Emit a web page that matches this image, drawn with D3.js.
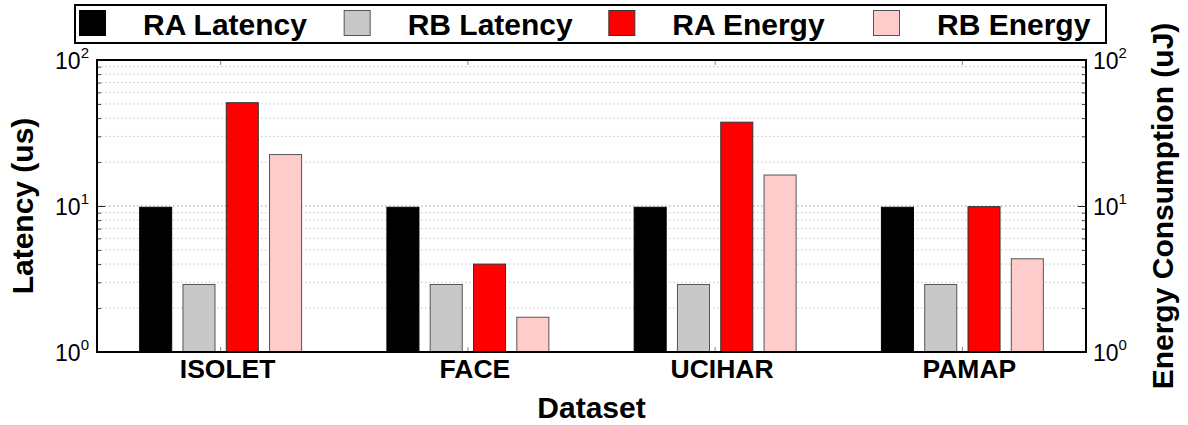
<!DOCTYPE html>
<html>
<head>
<meta charset="utf-8">
<script src="https://cdn.jsdelivr.net/npm/d3@7"></script>
<style>
  html, body { margin: 0; padding: 0; background: #fff; }
  svg { display: block; font-family: "Liberation Sans", Arial, Helvetica, sans-serif; }
</style>
</head>
<body>
<svg id="chart" width="1188" height="425"></svg>
<script>
// Datasets on the x axis
const categories = ["ISOLET", "FACE", "UCIHAR", "PAMAP"];
// Series, in legend / bar order
const seriesNames = ["RA Latency", "RB Latency", "RA Energy", "RB Energy"];
// Latency (us), left axis
const raLatency = [9.8, 9.8, 9.8, 9.8];
const rbLatency = [2.9, 2.9, 2.9, 2.9];
// Energy consumption (uJ), right axis
const raEnergy = [51, 4.0, 37.5, 9.9];
const rbEnergy = [22.5, 1.73, 16.3, 4.35];
// Decade tick labels: exponents of 10
const tickExponents = [0, 1, 2];

const seriesValues = [raLatency, rbLatency, raEnergy, rbEnergy];
const fills = ["#000000", "#c8c8c8", "#fe0000", "#ffcccc"];
const strokes = ["#000000", "#555555", "#333333", "#555555"];

const svg = d3.select("#chart");
const margin = { left: 97, right: 1086, top: 60, bottom: 352 };

const x0 = d3.scaleBand().domain(categories).range([margin.left, margin.right]).padding(0);
const x1 = d3.scaleBand().domain(seriesNames).range([0, x0.bandwidth()])
  .paddingInner(0.26).paddingOuter(0.985);
const yLat = d3.scaleLog().domain([1, 100]).range([margin.bottom, margin.top]);
const yEn = d3.scaleLog().domain([1, 100]).range([margin.bottom, margin.top]);
const scaleFor = i => (i < 2 ? yLat : yEn);

// Dotted grid at every decade step
const gridVals = yLat.ticks().filter(v => v > 1 && v < 100);
svg.append("g").selectAll("line").data(gridVals).join("line")
  .attr("x1", margin.left).attr("x2", margin.right)
  .attr("y1", d => yLat(d)).attr("y2", d => yLat(d))
  .attr("stroke", d => (d === 10 ? "#9a9a9a" : "#c4c4c4"))
  .attr("stroke-width", 1)
  .attr("stroke-dasharray", "1.5,2.5");

// Bars
const barData = [];
categories.forEach((c, ci) => {
  seriesNames.forEach((s, si) => {
    barData.push({ c, s, si, v: seriesValues[si][ci] });
  });
});
svg.append("g").selectAll("rect").data(barData).join("rect")
  .attr("x", d => x0(d.c) + x1(d.s))
  .attr("width", x1.bandwidth())
  .attr("y", d => scaleFor(d.si)(d.v))
  .attr("height", d => margin.bottom - scaleFor(d.si)(d.v))
  .attr("fill", d => fills[d.si])
  .attr("stroke", d => strokes[d.si])
  .attr("stroke-width", 1);

// Inward ticks on left and right axes (minor short, decades long)
function sideTicks(axisGen, xPos, scale) {
  const minor = scale.ticks().filter(v => ![1, 10, 100].includes(v));
  svg.append("g").attr("transform", `translate(${xPos},0)`)
    .call(axisGen(scale).tickValues(minor).tickSize(-4).tickFormat(""))
    .call(g => g.select(".domain").remove())
    .call(g => g.selectAll("line").attr("stroke", "#444"));
  svg.append("g").attr("transform", `translate(${xPos},0)`)
    .call(axisGen(scale).tickValues([10]).tickSize(-8).tickFormat(""))
    .call(g => g.select(".domain").remove())
    .call(g => g.selectAll("line").attr("stroke", "#222"));
}
sideTicks(d3.axisLeft, margin.left, yLat);
sideTicks(d3.axisRight, margin.right, yEn);

// Decade labels with superscript exponents
function decadeLabels(scale, xPos, anchor) {
  const t = svg.append("g").selectAll("text").data(tickExponents).join("text")
    .attr("x", xPos)
    .attr("y", d => scale(Math.pow(10, d)) + 8.5)
    .attr("text-anchor", anchor)
    .attr("font-size", 23)
    .attr("fill", "#000");
  t.append("tspan").text("10");
  t.append("tspan").attr("dy", -11).attr("font-size", 15).text(d => d);
}
decadeLabels(yLat, 89, "end");
decadeLabels(yEn, 1093, "start");

// Category axis: short ticks at group centres, bottom and top
svg.append("g").attr("transform", `translate(0,${margin.bottom})`)
  .call(d3.axisBottom(x0).tickSize(-5).tickPadding(0))
  .call(g => g.select(".domain").remove())
  .call(g => g.selectAll("line").attr("stroke", "#888"))
  .call(g => g.selectAll("text")
    .attr("x", 7).attr("y", 26).attr("dy", 0)
    .attr("font-size", 26.5).attr("font-weight", "bold")
    .attr("font-family", "'Liberation Sans', Arial, sans-serif")
    .attr("fill", "#000"));
svg.append("g").attr("transform", `translate(0,${margin.top})`)
  .call(d3.axisTop(x0).tickSize(-5).tickFormat(""))
  .call(g => g.select(".domain").remove())
  .call(g => g.selectAll("line").attr("stroke", "#888"));

// Plot frame
svg.append("rect")
  .attr("x", margin.left).attr("y", margin.top)
  .attr("width", margin.right - margin.left)
  .attr("height", margin.bottom - margin.top)
  .attr("fill", "none").attr("stroke", "#000").attr("stroke-width", 2);

// Axis titles
svg.append("text")
  .attr("x", (margin.left + margin.right) / 2).attr("y", 418)
  .attr("text-anchor", "middle").attr("font-size", 30).attr("font-weight", "bold")
  .text("Dataset");
svg.append("text")
  .attr("transform", `translate(33,${(margin.top + margin.bottom) / 2}) rotate(-90)`)
  .attr("text-anchor", "middle").attr("font-size", 30).attr("font-weight", "bold")
  .text("Latency (us)");
svg.append("text")
  .attr("transform", `translate(1173,${(margin.top + margin.bottom) / 2}) rotate(-90)`)
  .attr("text-anchor", "middle").attr("font-size", 30).attr("font-weight", "bold")
  .text("Energy Consumption (uJ)");

// Legend
const legend = svg.append("g");
legend.append("rect")
  .attr("x", 75).attr("y", 5).attr("width", 1031).attr("height", 38)
  .attr("fill", "#fff").attr("stroke", "#000").attr("stroke-width", 2);
const lx = d3.scalePoint().domain(seriesNames).range([79, 873]);
const item = legend.selectAll("g.item").data(seriesNames).join("g")
  .attr("class", "item")
  .attr("transform", d => `translate(${lx(d)},0)`);
item.append("rect")
  .attr("x", 0.5).attr("y", 10.5).attr("width", 26).attr("height", 25)
  .attr("fill", (d, i) => fills[i]).attr("stroke", (d, i) => strokes[i]).attr("stroke-width", 1);
item.append("text")
  .attr("x", 64).attr("y", 35)
  .attr("font-size", 30).attr("font-weight", "bold")
  .text(d => d);
</script>
</body>
</html>
